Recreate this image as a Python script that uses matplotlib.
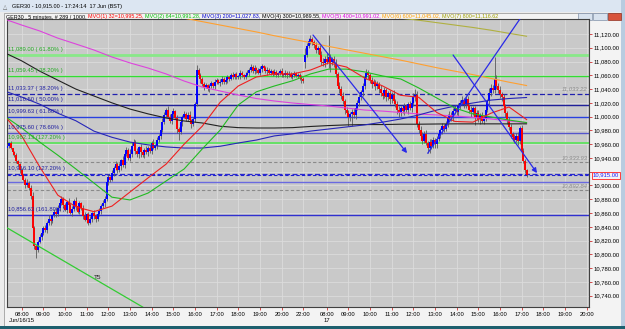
import matplotlib
matplotlib.use("Agg")
import matplotlib.pyplot as plt
from matplotlib.patches import Rectangle
from matplotlib import font_manager as fm
import matplotlib.transforms as mtransforms
import numpy as np

# ---------------- data ----------------
bar_start = -8   # bar index of the first bar (08:00 of day 1 = index 0)
closes = [
    10957, 10961, 10954, 10948, 10944, 10936, 10931, 10922, 10915, 10908,
    10900, 10904, 10896, 10885, 10838, 10812, 10806, 10818, 10825, 10831,
    10838, 10835, 10846, 10852, 10848, 10857, 10862, 10858, 10868, 10874,
    10880, 10871, 10865, 10876, 10872, 10860, 10866, 10878, 10870, 10862,
    10874, 10868, 10856, 10850, 10858, 10846, 10852, 10860, 10855, 10851,
    10858, 10863, 10870, 10874, 10880, 10905, 10912, 10908, 10918, 10925,
    10931, 10922, 10928, 10937, 10930, 10945, 10952, 10940, 10946, 10958,
    10963, 10950, 10945, 10956, 10948, 10944, 10952, 10948, 10955, 10950,
    10962, 10955, 10958, 10966, 10972, 10980, 10992, 11003, 11010, 11000,
    10994, 11004, 11008, 10998, 10982, 10978, 10992, 11000, 11004, 10997,
    11003, 10995, 10989, 10996, 11018, 11068, 11060, 11054, 11048, 11043,
    11046, 11040, 11044, 11049, 11045, 11050, 11053, 11049, 11051, 11055,
    11050, 11053, 11057, 11055, 11060, 11058, 11062, 11057, 11059, 11063,
    11060, 11058, 11061, 11064, 11068, 11072, 11066, 11070, 11067, 11064,
    11069, 11073, 11070, 11066, 11068, 11064, 11066, 11062, 11065, 11061,
    11063, 11066, 11062, 11060, 11064, 11060, 11062, 11058, 11061, 11063,
    11059, 11061, 11057, 11054, 11052, 11090, 11102, 11110, 11113, 11108,
    11104, 11097, 11100, 11090, 11080, 11078, 11084, 11080, 11086, 11079,
    11083, 11078, 11062, 11045, 11040, 11030, 11022, 11010, 11005, 11000,
    11004, 11007, 11002, 11012, 11020, 11028, 11036, 11045, 11058, 11064,
    11060, 11053, 11048, 11050, 11044, 11047, 11040, 11035, 11030, 11038,
    11028, 11034, 11025, 11032, 11022, 11018, 11010, 11005, 11012, 11008,
    11015, 11010, 11018, 11012, 11020, 11028, 11032, 10990, 10980, 10972,
    10965, 10975, 10962, 10955, 10963, 10958, 10966, 10960, 10968, 10975,
    10980, 10986, 10982, 10990, 10998, 11003, 10999, 11008, 11012, 11006,
    11015, 11020, 11024, 11018, 11026, 11015, 11010, 11006, 11012, 11000,
    11005, 10996, 11002, 10994, 10998, 11010, 11022, 11035, 11042, 11038,
    11055, 11045, 11038, 11033, 11028, 11015, 11005, 10995, 10985, 10975,
    10970, 10966, 10972, 10965, 10983, 10950, 10935, 10922, 10915,
]
open_overrides = {-8: 10955, 157: 11080}
# upper / lower wick lengths in points, one digit per bar
hi_wick = ("3241231242 3524632342 3425324632 5342634253 4235243243 2435435243 "
           "5342634375 4352432534 3524356435 4352436243 3524372342 3243243234 "
           "2342352324 3243243523 4323423243 2342324323 2324385463 4534654935 "
           "4563546345 3453453465 4354354635 4354634534 5435468546 5463545345 "
           "4534653454 5463543543 4534534654 9546354354 354635432")
lo_wick = ("2314232432 4235349324 3243523425 3425324352 4352432534 3243524324 "
           "3425342354 2435634253 4235342342 3542643523 4253432534 2342353243 "
           "3243234235 2432532432 3423524324 3243243234 2345394354 5463546395 "
           "4654654654 6546354654 5463546543 5465346543 5463546546 5436854654 "
           "6543546543 5436545649 5463543654 3546546546 543654343")
big_highs = {97: 11075, 133: 11075, 157: 11100, 160: 11119, 170: 11118, 218: 11036, 262: 11086}
big_lows = {8: 10795, 87: 10966, 156: 11050, 157: 11078, 171: 11065, 181: 10986,
            183: 10986, 225: 10947, 251: 10988}

# moving averages read at these bar indices
ma_idx = [-8, 0, 10, 20, 30, 40, 50, 60, 70, 80, 90, 100, 110, 120, 130,
          140, 150, 160, 170, 180, 190, 200, 210, 220, 230, 240, 250, 260, 270, 280]
ma32 = [10996.6, 10972, 10927, 10886, 10869, 10862, 10870, 10890.5, 10911, 10931,
        10960, 10986, 11021, 11044.5, 11057.6, 11062, 11062, 11067.7, 11078, 11072,
        11056, 11044.5, 11031, 11028, 11006, 10993, 10992, 11005, 11014, 10995.25]
ma64 = [10998, 10983.5, 10963, 10944, 10924, 10903.6, 10883, 10879, 10889, 10906.5,
        10924, 10953, 10980.6, 11017, 11036, 11044.5, 11052, 11062, 11069, 11069,
        11065, 11059, 11054.7, 11041.6, 11027, 11012.5, 11004, 10999.5, 10995, 10991.28]
ma200 = [11035.8, 11028.5, 11018, 11005, 10994, 10979, 10970, 10963, 10959, 10956,
         10954.4, 10954.4, 10957, 10961.7, 10966, 10972, 10975, 10979, 10982, 10985,
         10988, 10992, 10996.6, 11002.4, 11009.6, 11015.4, 11019.8, 11024, 11026.3, 11027.83]
ma300 = [11091, 11081, 11066, 11053, 11040, 11030, 11020, 11011, 11004, 10998,
         10993.7, 10990.8, 10986, 10984, 10983.5, 10983.5, 10984, 10985.7, 10987, 10988,
         10988.5, 10988.5, 10989, 10989, 10989.3, 10989.5, 10989.5, 10989.5, 10989.5, 10989.55]
ma400 = [11140.3, 11133, 11124.4, 11114, 11105.5, 11096.8, 11086.6, 11078, 11070.6, 11062,
         11051.7, 11043, 11037.2, 11031.4, 11026.3, 11022.7, 11019.8, 11017.6, 11015.4, 11012.5,
         11009.6, 11008, 11006, 11003.8, 11002.4, 11001, 10998.8, 10996.6, 10993.7, 10991.02]
ma600 = [11192, 11188, 11183, 11178, 11173, 11168, 11163, 11158, 11153, 11148,
         11143, 11138, 11133, 11128, 11123, 11117.5, 11112.5, 11107.5, 11102, 11097,
         11092, 11087, 11082, 11076.5, 11071, 11066, 11061, 11055.5, 11050, 11045.02]
ma800 = [11208, 11206, 11203, 11200, 11197, 11194, 11191, 11188, 11185, 11182,
         11179, 11176, 11173, 11170, 11167, 11164, 11161, 11158, 11155, 11152,
         11149, 11146, 11143, 11140, 11136.5, 11133, 11129.5, 11125.5, 11121, 11116.62]

fib_levels = [11089.00, 11059.45, 11033.37, 11016.50, 10999.63, 10975.60, 10962.13, 10916.10, 10856.63]
fib_labels = ["11,089.00 ( 61.80% )", "11,059.45 ( 38.20% )", "11,033.37 ( 38.20% )",
              "11,016.50 ( 50.00% )", "10,999.63 ( 61.80% )", "10,975.60 ( 78.60% )",
              "10,962.13 (127.20% )", "10,916.10 (127.20% )", "10,856.63 (161.80% )"]
plain_level = 10904.60
gray_levels = [11033.22, 10933.93, 10892.84]
gray_labels = ["11,033.22", "10,933.93", "10,892.84"]
current_price = 10915.00

trend_arrows = [((161.4, 11118.5), (213.5, 10947.0)),
                ((239.0, 11089.5), (285.5, 10918.0))]
trend_line = [(225.0, 10947.0), (280.0, 11157.0)]
t5_line = [(-8.0, 10838.3), (67.0, 10723.5)]
t5_pos = (42.3, 10767.0)

xtick_idx = [0, 12, 24, 36, 48, 60, 72, 84, 96, 108, 120, 132, 144, 156,
             169, 181, 193, 205, 217, 229, 241, 253, 265, 277, 289, 301, 313]
xtick_lab = ["08:00", "09:00", "10:00", "11:00", "12:00", "13:00", "14:00", "15:00",
             "16:00", "17:00", "18:00", "19:00", "20:00", "22:00",
             "08:00", "09:00", "10:00", "11:00", "12:00", "13:00", "14:00", "15:00",
             "16:00", "17:00", "18:00", "19:00", "20:00"]
date_labels = [(0, "Jun/16/15"), (169, "17")]
ytick_vals = list(range(10740, 11121, 20))
hidden_ytick = 10920   # covered by the current-price tag

header_parts = [("GER30 , 5 minutes, # 289 / 1000, ", "#000000"),
                ("MVO(1) 32=10,995.25, ", "#ff0000"),
                ("MVO(2) 64=10,991.28, ", "#00c000"),
                ("MVO(3) 200=11,027.83, ", "#0000d0"),
                ("MVO(4) 300=10,989.55, ", "#000000"),
                ("MVO(5) 400=10,991.02, ", "#e000e0"),
                ("MVO(6) 600=11,045.02, ", "#ffa000"),
                ("MVO(7) 800=11,116.62", "#a0a000")]
title_text = "GER30 - 10,915.00 - 17:24:14  17 Jun (BST)"

# ---------------- fonts ----------------
names = {f.name for f in fm.fontManager.ttflist}
NARROW = "Liberation Sans Narrow" if "Liberation Sans Narrow" in names else "Liberation Sans"
FONT = [NARROW, "DejaVu Sans"]
plt.rcParams["font.family"] = FONT
SZ = 4.2

W, H = 625, 329
fig = plt.figure(figsize=(W / 100, H / 100), dpi=100, facecolor="#ececec")

def fx(x):
    return x / W

def fy(y):
    return 1 - y / H

def prect(x0, y0, x1, y1, **kw):
    fig.patches.append(Rectangle((fx(x0), fy(y1)), fx(x1) - fx(x0), fy(y0) - fy(y1),
                                 transform=fig.transFigure, zorder=-5, **kw))

# window chrome
prect(0, 0, 625, 12, fc="#dce6f2", ec="none")
prect(0, 12, 625, 329, fc="#ececec", ec="none")
prect(4, 13, 621, 326, fc="#f3f3f3", ec="#a0a0a0", lw=0.6)
prect(621, 0, 625, 329, fc="#b8cce0", ec="none")
prect(0, 325.5, 625, 329, fc="#1d5f6e", ec="none")
prect(578, 13, 592, 19.5, fc="#d8e2ee", ec="#8090a8", lw=0.5)
prect(593, 13, 607, 19.5, fc="#d8e2ee", ec="#8090a8", lw=0.5)
prect(608, 13, 621, 19.5, fc="#d8543c", ec="#903020", lw=0.5)
fig.text(fx(3), fy(6.5), "\u25b3", fontsize=4.0, color="#606060", va="center", ha="left",
         family=["DejaVu Sans"])
fig.text(fx(12), fy(6.5), title_text, fontsize=4.0, color="#000000", va="center", ha="left")

# ---------------- main axes ----------------
ax = fig.add_axes([fx(7), fy(307), fx(589) - fx(7), fy(19) - fy(307)])
ax.set_zorder(2)
ax.set_facecolor("#c9c9c9")
ax.set_xlim(-8.14, 314.3)
ax.set_ylim(10723.5, 11141.8)

ax.set_xticks(xtick_idx)
ax.set_xticklabels(xtick_lab)
ax.set_yticks(ytick_vals)
ax.set_yticklabels(["" if v == hidden_ytick else "{:,.2f}".format(v) for v in ytick_vals])
ax.yaxis.tick_right()
ax.tick_params(axis="both", colors="#d03030", length=2.5, width=0.6, labelsize=SZ,
               labelcolor="#000000", pad=1)
ax.grid(True, color="#dcdcdc", lw=0.6, zorder=0)
ax.set_axisbelow(True)
for s in ax.spines.values():
    s.set_color("#404040")
    s.set_linewidth(0.8)

# horizontal levels
fib_styles = [("#88e888", 2.0, "-"), ("#33dd33", 1.0, "-"), ("#2020b0", 0.9, (0, (4, 2))),
              ("#20209a", 1.0, "-"), ("#2840e0", 1.0, "-"), ("#5555cc", 1.0, "-"),
              ("#66e066", 1.4, "-"), ("#2a2ad0", 0.9, (0, (4, 2))), ("#3030d0", 1.0, "-")]
for lev, lab, (col, lw, ls) in zip(fib_levels, fib_labels, fib_styles):
    ax.axhline(lev, color=col, lw=lw, ls=ls, zorder=2)
    tcol = "#22aa22" if col.startswith(("#88", "#33", "#66")) else "#2020a0"
    ax.text(-7.5, lev + 4.5, lab, fontsize=SZ, color=tcol, va="bottom", ha="left", zorder=6)
ax.axhline(plain_level, color="#6a6ae0", lw=1.0, zorder=2)
for lev, lab in zip(gray_levels, gray_labels):
    if lab != "11,033.22":
        ax.axhline(lev, color="#8a8a8a", lw=0.8, ls=(0, (3, 2)), zorder=2)
    ax.text(313.5, lev + 3, lab, fontsize=SZ, color="#8c8c8c", style="italic",
            va="bottom", ha="right", zorder=6)
ax.axhline(current_price, color="#2020d0", lw=0.8, ls=(0, (3, 2)), zorder=2)

# candles
n = len(closes)
idx = np.arange(bar_start, bar_start + n)
opens = [open_overrides.get(bar_start, closes[0])] + closes[:-1]
for k, v in open_overrides.items():
    opens[k - bar_start] = v
hw = hi_wick.replace(" ", "")
lw_ = lo_wick.replace(" ", "")
highs, lows = [], []
for j in range(n):
    o, c = opens[j], closes[j]
    h = max(o, c) + (int(hw[j]) if j < len(hw) else 2)
    l = min(o, c) - (int(lw_[j]) if j < len(lw_) else 2)
    b = int(idx[j])
    if b in big_highs:
        h = max(h, big_highs[b])
    if b in big_lows:
        l = min(l, big_lows[b])
    highs.append(h)
    lows.append(l)
opens = np.array(opens, float)
cl = np.array(closes, float)
ax.vlines(idx, lows, highs, color="#5a5a5a", lw=0.6, zorder=3)
up = cl > opens
dn = cl < opens
ax.vlines(idx[up], opens[up], cl[up], color="#0000ff", lw=1.4, zorder=3.5)
ax.vlines(idx[dn], opens[dn], cl[dn], color="#ff0000", lw=1.4, zorder=3.5)

# moving averages
for vals, col in [(ma800, "#b0b040"), (ma600, "#ffa030"), (ma400, "#dd44dd"),
                  (ma300, "#222222"), (ma200, "#2626b8"), (ma64, "#22bb22"), (ma32, "#ee2020")]:
    ax.plot(ma_idx, vals, color=col, lw=0.8, zorder=4, solid_capstyle="butt")

# trend lines
for (p0, p1) in trend_arrows:
    ax.annotate("", xy=p1, xytext=p0,
                arrowprops=dict(arrowstyle="-|>", color="#2a2ae8", lw=0.9,
                                mutation_scale=7, shrinkA=0, shrinkB=0), zorder=5)
ax.plot([trend_line[0][0], trend_line[1][0]], [trend_line[0][1], trend_line[1][1]],
        color="#2a2ae8", lw=0.9, zorder=5)
ax.plot([t5_line[0][0], t5_line[1][0]], [t5_line[0][1], t5_line[1][1]],
        color="#33cc33", lw=0.9, zorder=5)
ax.text(t5_pos[0], t5_pos[1], "T5", fontsize=SZ + 0.4, color="#202020", ha="center", va="center")

# current price tag on the right axis
trans = mtransforms.blended_transform_factory(ax.transAxes, ax.transData)
ax.text(1.006, current_price, "10,915.00", transform=trans, fontsize=SZ, color="#2020ff",
        va="center", ha="left", clip_on=False, zorder=7,
        bbox=dict(boxstyle="square,pad=0.15", fc="#f3f3f3", ec="#ff2020", lw=0.6))

# date labels under the time axis
transx = mtransforms.blended_transform_factory(ax.transData, fig.transFigure)
for b, lab in date_labels:
    ax.text(b, fy(320.5), lab, transform=transx, fontsize=SZ, color="#000000",
            ha="center", va="center", clip_on=False)

# header with coloured indicator values
renderer = fig.canvas.get_renderer()
xcur = fx(6)
for txt, col in header_parts:
    t = fig.text(xcur, fy(16.3), txt, fontsize=3.9, color=col, va="center", ha="left")
    bb = t.get_window_extent(renderer=renderer)
    xcur += bb.width / (W)

fig.savefig("out.png", dpi=100, facecolor=fig.get_facecolor())
